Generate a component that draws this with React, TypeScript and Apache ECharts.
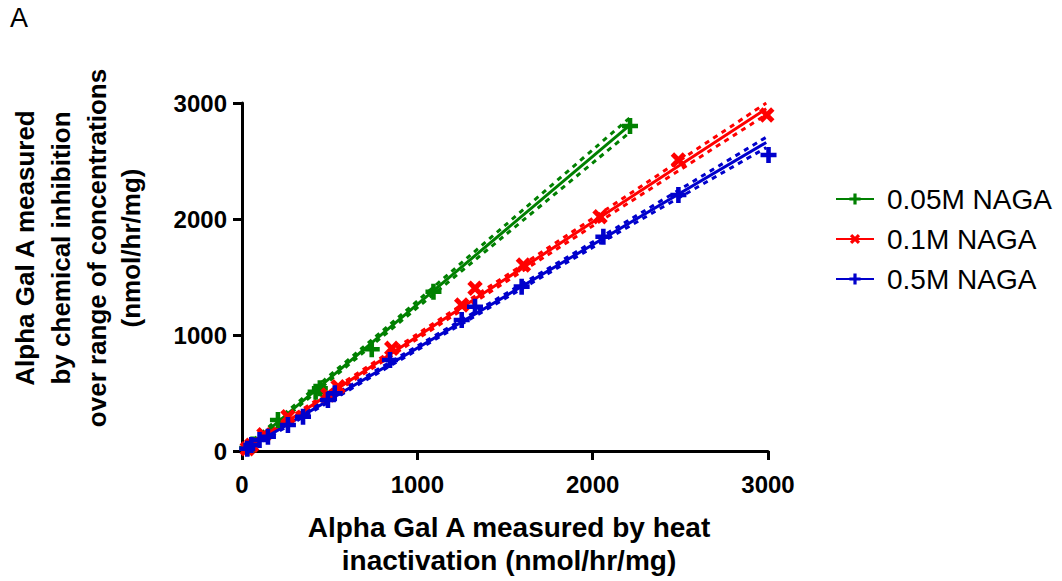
import React, { useEffect, useRef } from "react";
import * as echarts from "echarts";

// ---- data ----
const seriesNames = ["0.05M NAGA", "0.1M NAGA", "0.5M NAGA"];
const xTicks = [0, 1000, 2000, 3000];
const yTicks = [0, 1000, 2000, 3000];

const greenPoints = [
  [30, 25], [60, 55], [205, 267], [420, 510], [444, 540], [740, 877], [1092, 1373], [2213, 2802],
];
const redPoints = [
  [30, 20], [55, 50], [125, 140], [262, 296], [490, 483], [548, 554], [854, 885], [1253, 1259],
  [1329, 1403], [1605, 1603], [2042, 2020], [2489, 2509], [2993, 2897],
];
const bluePoints = [
  [30, 20], [53, 52], [100, 95], [148, 123], [262, 224], [348, 296], [490, 440], [529, 497],
  [844, 784], [1253, 1129], [1329, 1244], [1595, 1417], [2061, 1847], [2489, 2207], [3003, 2552],
];

// regression lines
const greenFit = [[20, 15], [2210, 2807]];
const redFit = [[20, 20], [2990, 2950]];
const blueFit = [[20, 15], [2990, 2660]];

// 95% confidence bands
const greenUpper = [[20, 40], [800, 1035], [1500, 1945], [2210, 2870]];
const greenLower = [[20, 0], [800, 985], [1500, 1860], [2210, 2745]];
const redUpper = [[20, 40], [1000, 1008], [2000, 2005], [2990, 3000]];
const redLower = [[20, 2], [1000, 966], [2000, 1940], [2990, 2900]];
const blueUpper = [[20, 32], [1000, 905], [2000, 1802], [2990, 2705]];
const blueLower = [[20, 0], [1000, 871], [2000, 1754], [2990, 2615]];

const colors = ["#008000", "#ff0000", "#0000cc"];
const plusPath = "path://M5,0H9V5H14V9H9V14H5V9H0V5H5Z";
const FONT = "'Liberation Sans', Arial, sans-serif";

function buildGroup(name: string, color: string, pts: number[][], fit: number[][], up: number[][], lo: number[][], rotate: number) {
  const band = (d: number[][]) => ({
    type: "line",
    data: d,
    showSymbol: false,
    silent: true,
    smooth: 0.3,
    lineStyle: { color, width: 3, type: [5, 5] },
    z: 2,
  });
  return [
    band(up),
    band(lo),
    {
      type: "line",
      name,
      data: fit,
      showSymbol: false,
      symbol: plusPath,
      symbolSize: 14,
      symbolRotate: rotate,
      itemStyle: { color },
      lineStyle: { color, width: 3 },
      z: 3,
    },
    {
      type: "scatter",
      data: pts,
      symbol: plusPath,
      symbolSize: rotate ? 17 : 16,
      symbolRotate: rotate,
      itemStyle: { color, opacity: 1 },
      clip: false,
      z: 4,
    },
  ];
}

export default function App() {
  const ref = useRef<HTMLDivElement>(null);
  useEffect(() => {
    if (!ref.current) return;
    const chart = echarts.init(ref.current, null, { renderer: "svg" });
    const axisCommon = {
      type: "value",
      min: 0,
      max: 3000,
      interval: 1000,
      axisLine: { show: true, onZero: false, lineStyle: { color: "#000", width: 3 } },
      axisTick: { show: true, length: 9, lineStyle: { color: "#000", width: 3 } },
      splitLine: { show: false },
    };
    chart.setOption({
      animation: false,
      textStyle: { fontFamily: FONT },
      grid: { left: 242, right: 294, top: 103, bottom: 130, containLabel: false },
      xAxis: {
        ...axisCommon,
        axisLabel: {
          margin: 21,
          fontSize: 24,
          fontWeight: "bold",
          color: "#000",
          fontFamily: FONT,
          formatter: (v: number) => (xTicks.includes(v) ? String(v) : ""),
        },
      },
      yAxis: {
        ...axisCommon,
        axisLabel: {
          margin: 15,
          fontSize: 24,
          fontWeight: "bold",
          color: "#000",
          fontFamily: FONT,
          formatter: (v: number) => (yTicks.includes(v) ? String(v) : ""),
        },
      },
      legend: {
        orient: "vertical",
        left: 830,
        top: 180,
        itemWidth: 38,
        itemHeight: 14,
        itemGap: 12,
        data: seriesNames,
        textStyle: { fontSize: 28, color: "#000", fontFamily: FONT, lineHeight: 28, padding: [0, 0, 0, 8] },
      },
      series: [
        ...buildGroup(seriesNames[0], colors[0], greenPoints, greenFit, greenUpper, greenLower, 0),
        ...buildGroup(seriesNames[1], colors[1], redPoints, redFit, redUpper, redLower, 45),
        ...buildGroup(seriesNames[2], colors[2], bluePoints, blueFit, blueUpper, blueLower, 0),
      ],
      graphic: [
        { type: "text", left: 10, top: 4, style: { text: "A", font: `27px ${FONT}`, fill: "#000" } },
        {
          type: "text",
          x: 509,
          y: 527,
          style: { text: "Alpha Gal A measured by heat", font: `bold 28px ${FONT}`, fill: "#000", align: "center", verticalAlign: "middle" },
        },
        {
          type: "text",
          x: 509,
          y: 560,
          style: { text: "inactivation (nmol/hr/mg)", font: `bold 28px ${FONT}`, fill: "#000", align: "center", verticalAlign: "middle" },
        },
        ...[
          ["Alpha Gal A measured", 25],
          ["by chemical inhibition", 61],
          ["over range of concentrations", 97],
          ["(nmol/hr/mg)", 131],
        ].map(([t, x]) => ({
          type: "text",
          x: x as number,
          y: 248,
          rotation: Math.PI / 2,
          style: { text: t as string, font: `bold 26px ${FONT}`, fill: "#000", align: "center", verticalAlign: "middle" },
        })),
      ],
    });
    return () => chart.dispose();
  }, []);
  return <div ref={ref} style={{ position: "absolute", left: 0, top: 0, width: 1062, height: 581 }} />;
}
